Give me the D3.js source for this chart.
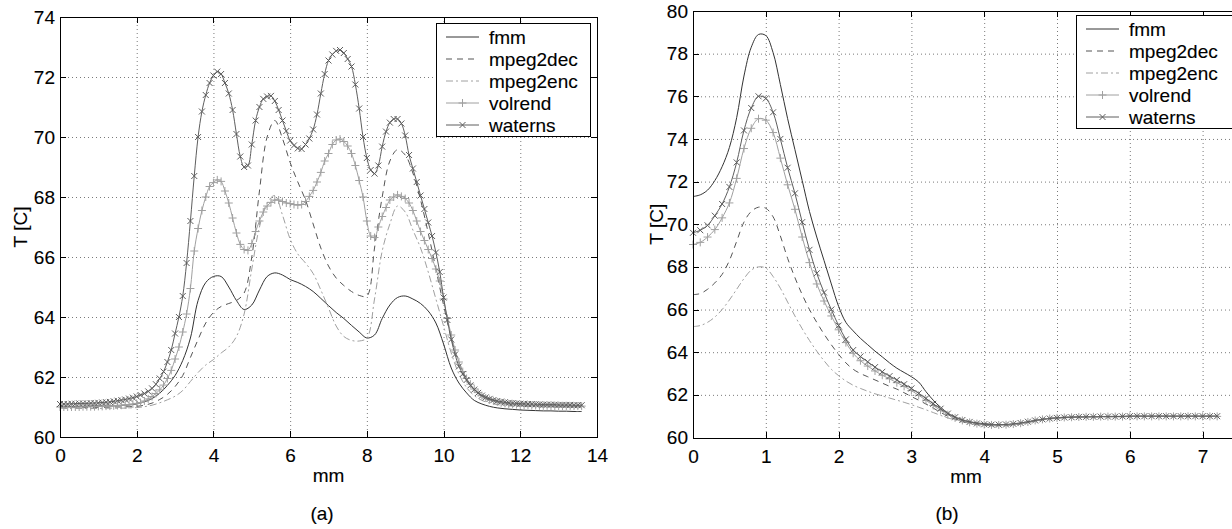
<!DOCTYPE html>
<html lang="en">
<head>
  <meta charset="UTF-8">
  <title>Temperature profiles</title>
  <script src="https://d3js.org/d3.v7.min.js"></script>
  <style>
    body { margin: 0; background: #fff; }
    svg { display: block; font-family: "Liberation Sans", Arial, Helvetica, sans-serif; }
    .grid { stroke: #7a7a7a; stroke-width: 1; stroke-dasharray: 1,3; }
    .axis path, .axis line { stroke: #000; shape-rendering: crispEdges; }
    .axis text, .lbl { font-size: 19px; fill: #000; stroke: #000; stroke-width: 0.12px; }
  </style>
</head>
<body>
  <script>
    // ---- data: panel (a) ----
    // fmm / mpeg2dec / mpeg2enc sampled every 0.2 mm
    const xA2 = [0,0.2,0.4,0.6,0.8,1,1.2,1.4,1.6,1.8,2,2.2,2.4,2.6,2.8,3,3.2,3.4,3.6,3.8,4,4.2,4.4,4.6,4.8,5,5.2,5.4,5.6,5.8,6,6.2,6.4,6.6,6.8,7,7.2,7.4,7.6,7.8,8,8.2,8.4,8.6,8.8,9,9.2,9.4,9.6,9.8,10,10.2,10.4,10.6,10.8,11,11.2,11.4,11.6,11.8,12,12.2,12.4,12.6,12.8,13,13.2,13.4,13.6];
    // volrend / waterns (marked curves) every 0.1 mm
    const xA1 = [0,0.1,0.2,0.3,0.4,0.5,0.6,0.7,0.8,0.9,1,1.1,1.2,1.3,1.4,1.5,1.6,1.7,1.8,1.9,2,2.1,2.2,2.3,2.4,2.5,2.6,2.7,2.8,2.9,3,3.1,3.2,3.3,3.4,3.5,3.6,3.7,3.8,3.9,4,4.1,4.2,4.3,4.4,4.5,4.6,4.7,4.8,4.9,5,5.1,5.2,5.3,5.4,5.5,5.6,5.7,5.8,5.9,6,6.1,6.2,6.3,6.4,6.5,6.6,6.7,6.8,6.9,7,7.1,7.2,7.3,7.4,7.5,7.6,7.7,7.8,7.9,8,8.1,8.2,8.3,8.4,8.5,8.6,8.7,8.8,8.9,9,9.1,9.2,9.3,9.4,9.5,9.6,9.7,9.8,9.9,10,10.1,10.2,10.3,10.4,10.5,10.6,10.7,10.8,10.9,11,11.1,11.2,11.3,11.4,11.5,11.6,11.7,11.8,11.9,12,12.1,12.2,12.3,12.4,12.5,12.6,12.7,12.8,12.9,13,13.1,13.2,13.3,13.4,13.5,13.6];
    const fmmA = [61.02,61.02,61.02,61.02,61.03,61.03,61.03,61.04,61.05,61.07,
      61.10,61.17,61.28,61.46,61.72,62.05,62.55,63.30,64.55,65.15,
      65.35,65.35,65.00,64.55,64.25,64.40,64.90,65.35,65.47,65.40,
      65.25,65.15,65.02,64.85,64.62,64.38,64.15,63.95,63.72,63.50,
      63.30,63.40,63.95,64.40,64.65,64.70,64.60,64.45,64.20,63.80,
      63.10,62.30,61.80,61.47,61.22,61.10,61.02,60.97,60.94,60.92,
      60.90,60.89,60.88,60.87,60.87,60.86,60.86,60.85,60.85];
    const mpeg2decA = [60.98,60.98,60.98,60.98,60.98,60.99,60.99,61.00,61.00,61.01,
      61.02,61.06,61.13,61.25,61.42,61.68,62.05,62.65,63.25,63.80,
      64.15,64.35,64.45,64.55,64.80,66.00,68.20,70.00,70.55,69.95,
      69.15,68.50,67.90,67.10,66.30,65.70,65.30,65.05,64.85,64.72,
      64.70,66.30,68.00,69.20,69.58,69.40,68.80,67.90,66.80,65.60,
      64.40,63.30,62.50,61.95,61.60,61.38,61.25,61.17,61.12,61.08,
      61.06,61.05,61.04,61.03,61.03,61.02,61.02,61.02,61.02];
    const mpeg2encA = [60.95,60.95,60.95,60.95,60.95,60.95,60.96,60.96,60.96,60.97,
      60.98,61.01,61.06,61.14,61.24,61.36,61.55,61.85,62.15,62.40,
      62.58,62.80,63.00,63.35,64.10,65.60,67.00,67.80,68.05,67.40,
      66.60,66.10,65.80,65.45,64.90,64.30,63.70,63.35,63.22,63.20,
      63.30,64.60,66.20,67.10,67.70,67.50,66.90,66.30,65.50,64.60,
      63.70,62.80,62.10,61.65,61.38,61.22,61.13,61.08,61.05,61.03,
      61.02,61.01,61.01,61.00,61.00,61.00,61.00,61.00,61.00];
    const volrendA = [61.00,61.00,61.00,61.00,61.00,61.00,61.01,61.01,61.01,61.01,
      61.02,61.02,61.03,61.03,61.04,61.05,61.06,61.07,61.08,61.10,
      61.12,61.15,61.20,61.27,61.35,61.45,61.57,61.73,61.95,62.22,
      62.60,63.00,63.50,64.10,64.95,66.20,66.95,67.55,68.00,68.35,
      68.48,68.57,68.52,68.20,67.80,67.30,66.80,66.42,66.25,66.22,
      66.45,66.85,67.20,67.50,67.70,67.82,67.90,67.90,67.85,67.80,
      67.78,67.75,67.73,67.75,67.85,68.02,68.22,68.50,68.82,69.20,
      69.45,69.75,69.90,69.93,69.85,69.70,69.45,69.05,68.55,68.00,
      67.20,66.70,66.65,67.00,67.35,67.65,67.90,68.00,68.07,68.02,
      67.95,67.80,67.55,67.20,66.85,66.55,66.25,65.95,65.60,65.20,
      64.60,63.95,63.40,62.90,62.50,62.18,61.95,61.76,61.60,61.48,
      61.38,61.30,61.25,61.21,61.17,61.14,61.12,61.10,61.09,61.08,
      61.07,61.06,61.06,61.05,61.05,61.04,61.04,61.04,61.03,61.03,
      61.03,61.03,61.03,61.03,61.03,61.03,61.03];
    const waternsA = [61.10,61.10,61.10,61.11,61.11,61.12,61.12,61.12,61.13,61.13,
      61.14,61.15,61.16,61.17,61.19,61.21,61.23,61.25,61.28,61.31,
      61.35,61.40,61.45,61.52,61.62,61.76,61.95,62.18,62.50,62.90,
      63.45,64.00,64.70,65.80,67.20,68.70,70.00,70.85,71.40,71.80,
      72.05,72.18,72.10,71.80,71.45,70.90,70.10,69.35,69.00,69.05,
      69.75,70.55,71.00,71.27,71.35,71.37,71.20,70.90,70.55,70.20,
      69.88,69.72,69.62,69.60,69.75,69.95,70.25,70.75,71.45,72.10,
      72.55,72.75,72.87,72.90,72.80,72.60,72.35,71.75,70.95,70.00,
      69.30,68.90,68.78,69.05,69.68,70.18,70.48,70.60,70.60,70.45,
      70.05,69.40,68.95,68.50,68.05,67.60,67.15,66.70,66.15,65.50,
      64.65,63.90,63.25,62.75,62.35,62.10,61.90,61.72,61.58,61.47,
      61.38,61.32,61.27,61.23,61.20,61.18,61.16,61.14,61.13,61.12,
      61.11,61.11,61.10,61.10,61.09,61.09,61.08,61.08,61.08,61.08,
      61.07,61.07,61.07,61.07,61.06,61.06,61.06];

    // ---- data: panel (b), every 0.1 mm ----
    const xB = [0,0.1,0.2,0.3,0.4,0.5,0.6,0.7,0.8,0.9,1,1.1,1.2,1.3,1.4,1.5,1.6,1.7,1.8,1.9,2,2.1,2.2,2.3,2.4,2.5,2.6,2.7,2.8,2.9,3,3.1,3.2,3.3,3.4,3.5,3.6,3.7,3.8,3.9,4,4.1,4.2,4.3,4.4,4.5,4.6,4.7,4.8,4.9,5,5.1,5.2,5.3,5.4,5.5,5.6,5.7,5.8,5.9,6,6.1,6.2,6.3,6.4,6.5,6.6,6.7,6.8,6.9,7,7.1,7.2];
    const fmmB = [71.30,71.38,71.60,72.05,72.70,73.60,75.00,76.95,78.30,78.90,
      78.85,78.05,76.55,74.95,73.50,72.05,70.60,69.40,68.30,67.20,
      66.15,65.40,65.00,64.65,64.35,64.05,63.78,63.50,63.25,63.05,
      62.85,62.60,62.15,61.75,61.42,61.15,60.95,60.83,60.74,60.68,
      60.65,60.62,60.60,60.60,60.62,60.66,60.72,60.80,60.86,60.90,
      60.93,60.95,60.96,60.97,60.98,60.98,60.98,60.99,60.99,60.99,
      61.00,61.00,61.00,61.00,61.00,61.00,61.00,61.00,61.00,61.00,
      61.00,61.00,61.00];
    const mpeg2decB = [66.70,66.75,66.95,67.25,67.65,68.30,69.20,70.10,70.60,70.80,
      70.75,70.35,69.45,68.40,67.50,66.70,66.00,65.40,64.85,64.35,
      63.90,63.50,63.20,63.00,62.85,62.70,62.55,62.40,62.27,62.10,
      61.92,61.75,61.57,61.38,61.18,61.00,60.86,60.75,60.67,60.61,
      60.58,60.56,60.56,60.57,60.60,60.65,60.71,60.78,60.84,60.88,
      60.91,60.93,60.95,60.96,60.97,60.97,60.98,60.98,60.98,60.98,
      60.99,60.99,60.99,60.99,60.99,60.99,60.99,60.99,60.99,60.99,
      60.99,60.99,60.99];
    const mpeg2encB = [65.20,65.25,65.40,65.65,66.00,66.45,66.95,67.45,67.85,68.00,
      67.95,67.55,67.00,66.35,65.70,65.10,64.55,64.05,63.60,63.20,
      62.90,62.65,62.45,62.30,62.17,62.05,61.95,61.85,61.75,61.65,
      61.54,61.42,61.30,61.17,61.04,60.92,60.82,60.73,60.66,60.61,
      60.57,60.55,60.55,60.56,60.59,60.64,60.70,60.77,60.83,60.87,
      60.90,60.92,60.94,60.95,60.96,60.97,60.97,60.97,60.98,60.98,
      60.98,60.98,60.98,60.98,60.98,60.98,60.98,60.98,60.98,60.98,
      60.98,60.98,60.98];
    const volrendB = [69.05,69.15,69.40,69.75,70.30,71.00,72.15,73.55,74.50,74.95,
      74.88,74.30,73.10,71.85,70.70,69.40,68.20,67.20,66.40,65.70,
      65.05,64.45,63.95,63.60,63.35,63.12,62.92,62.75,62.57,62.40,
      62.20,61.98,61.75,61.50,61.27,61.07,60.92,60.80,60.71,60.65,
      60.61,60.59,60.59,60.60,60.63,60.67,60.73,60.80,60.85,60.89,
      60.92,60.94,60.95,60.96,60.97,60.97,60.98,60.98,60.98,60.98,
      60.99,60.99,60.99,60.99,60.99,60.99,60.99,60.99,60.99,60.99,
      60.99,60.99,60.99];
    const waternsB = [69.60,69.72,69.95,70.40,70.95,71.75,72.90,74.40,75.45,76.00,
      75.90,75.25,74.00,72.65,71.45,70.10,68.80,67.70,66.80,66.00,
      65.25,64.60,64.10,63.80,63.55,63.30,63.08,62.88,62.70,62.50,
      62.30,62.07,61.83,61.58,61.35,61.12,60.95,60.82,60.73,60.66,
      60.62,60.60,60.60,60.61,60.64,60.68,60.74,60.80,60.85,60.89,
      60.92,60.94,60.95,60.96,60.97,60.97,60.98,60.98,60.98,60.99,
      61.00,61.00,61.00,61.00,61.00,61.00,61.00,61.00,61.00,61.00,
      61.00,61.00,61.00];

    const seriesNames = ["fmm", "mpeg2dec", "mpeg2enc", "volrend", "waterns"];
    const xTicksA = [0, 2, 4, 6, 8, 10, 12, 14];
    const yTicksA = [60, 62, 64, 66, 68, 70, 72, 74];
    const xTicksB = [0, 1, 2, 3, 4, 5, 6, 7];
    const yTicksB = [60, 62, 64, 66, 68, 70, 72, 74, 76, 78, 80];

    // line styles, matlab greyscale look
    const styles = [
      { stroke: "#333333", dash: null, marker: null },
      { stroke: "#555555", dash: "6,5", marker: null },
      { stroke: "#a0a0a0", dash: "7,3,2,3", marker: null },
      { stroke: "#a0a0a0", dash: null, marker: "plus" },
      { stroke: "#5e5e5e", dash: null, marker: "cross" }
    ];
    const markerPath = {
      plus: "M-4,0L4,0M0,-4L0,4",
      cross: "M-3,-3L3,3M-3,3L3,-3"
    };

    const W = 1232, H = 529;
    const svg = d3.select("body").append("svg")
      .attr("width", W).attr("height", H);

    function drawPanel(p) {
      const x = d3.scaleLinear().domain(p.xDomain).range([p.left, p.right]);
      const y = d3.scaleLinear().domain(p.yDomain).range([p.bottom, p.top]);
      const g = svg.append("g");

      // dotted grid
      g.selectAll(null)
        .data(p.xTicks.filter(t => t > p.xDomain[0] && t < p.xDomain[1]))
        .enter().append("line").attr("class", "grid")
        .attr("x1", d => x(d) + 0.5).attr("x2", d => x(d) + 0.5)
        .attr("y1", p.top).attr("y2", p.bottom);
      g.selectAll(null)
        .data(p.yTicks.filter(t => t > p.yDomain[0] && t < p.yDomain[1]))
        .enter().append("line").attr("class", "grid")
        .attr("y1", d => y(d) + 0.5).attr("y2", d => y(d) + 0.5)
        .attr("x1", p.left).attr("x2", p.right);

      const line = d3.line()
        .x(d => x(d[0]))
        .y(d => y(d[1]))
        .curve(d3.curveCatmullRom.alpha(0.5));

      p.series.forEach((vals, i) => {
        const st = styles[i];
        const xs = p.xs[i];
        const pts = xs.map((xv, j) => [xv, vals[j]]);
        g.append("path")
          .datum(pts)
          .attr("d", line)
          .attr("fill", "none")
          .attr("stroke", st.stroke)
          .attr("stroke-width", 1)
          .attr("stroke-dasharray", st.dash);
        if (st.marker) {
          g.selectAll(null).data(pts).enter().append("path")
            .attr("d", markerPath[st.marker])
            .attr("transform", d => `translate(${x(d[0])},${y(d[1])})`)
            .attr("fill", "none")
            .attr("stroke", st.stroke)
            .attr("stroke-width", 1);
        }
      });

      // box axes, ticks pointing inward
      g.append("g").attr("class", "axis")
        .attr("transform", `translate(0,${p.bottom})`)
        .call(d3.axisBottom(x).tickValues(p.xTicks).tickFormat(d3.format("d"))
          .tickSizeInner(-6).tickSizeOuter(0).tickPadding(12));
      g.append("g").attr("class", "axis")
        .attr("transform", `translate(0,${p.top})`)
        .call(d3.axisTop(x).tickValues(p.xTicks).tickFormat("")
          .tickSizeInner(-6).tickSizeOuter(0));
      g.append("g").attr("class", "axis")
        .attr("transform", `translate(${p.left},0)`)
        .call(d3.axisLeft(y).tickValues(p.yTicks).tickFormat(d3.format("d"))
          .tickSizeInner(-6).tickSizeOuter(0).tickPadding(5));
      g.append("g").attr("class", "axis")
        .attr("transform", `translate(${p.right},0)`)
        .call(d3.axisRight(y).tickValues(p.yTicks).tickFormat("")
          .tickSizeInner(-6).tickSizeOuter(0));
      g.selectAll(".axis").attr("font-family", null).attr("font-size", null);

      // axis labels and caption
      g.append("text").attr("class", "lbl")
        .attr("x", (p.left + p.right) / 2).attr("y", p.bottom + 45)
        .attr("text-anchor", "middle").text("mm");
      g.append("text").attr("class", "lbl")
        .attr("transform", `translate(${p.ylabX},${(p.top + p.bottom) / 2}) rotate(-90)`)
        .attr("text-anchor", "middle").attr("dy", "0.35em").text("T [C]");
      g.append("text").attr("class", "lbl")
        .attr("x", p.capX).attr("y", 520)
        .attr("text-anchor", "middle").text(p.caption);

      // legend
      const lg = g.append("g");
      lg.append("rect")
        .attr("x", p.leg.x).attr("y", p.leg.y)
        .attr("width", p.leg.w).attr("height", 113)
        .attr("fill", "#fff").attr("stroke", "#000").attr("stroke-width", 1)
        .attr("shape-rendering", "crispEdges");
      seriesNames.forEach((name, i) => {
        const st = styles[i];
        const yy = p.leg.y + 14 + i * 22;
        const x0 = p.leg.x + 10, x1 = p.leg.x + 43;
        lg.append("line")
          .attr("x1", x0).attr("x2", x1).attr("y1", yy).attr("y2", yy)
          .attr("stroke", st.stroke).attr("stroke-dasharray", st.dash);
        if (st.marker) {
          lg.append("path").attr("d", markerPath[st.marker])
            .attr("transform", `translate(${(x0 + x1) / 2},${yy})`)
            .attr("fill", "none").attr("stroke", st.stroke);
        }
        lg.append("text").attr("class", "lbl")
          .attr("x", p.leg.x + 53).attr("y", yy).attr("dy", "0.35em")
          .text(name);
      });
    }

    drawPanel({
      left: 60, right: 597, top: 17, bottom: 437,
      xDomain: [0, 14], yDomain: [60, 74],
      xTicks: xTicksA, yTicks: yTicksA,
      xs: [xA2, xA2, xA2, xA1, xA1],
      series: [fmmA, mpeg2decA, mpeg2encA, volrendA, waternsA],
      ylabX: 20, capX: 322, caption: "(a)",
      leg: { x: 436, y: 23, w: 154 }
    });

    drawPanel({
      left: 693, right: 693 + 7.5 * 72.8, top: 11, bottom: 437.5,
      xDomain: [0, 7.5], yDomain: [60, 80],
      xTicks: xTicksB, yTicks: yTicksB,
      xs: [xB, xB, xB, xB, xB],
      series: [fmmB, mpeg2decB, mpeg2encB, volrendB, waternsB],
      ylabX: 656, capX: 947, caption: "(b)",
      leg: { x: 1076, y: 15, w: 170 }
    });
  </script>
</body>
</html>
